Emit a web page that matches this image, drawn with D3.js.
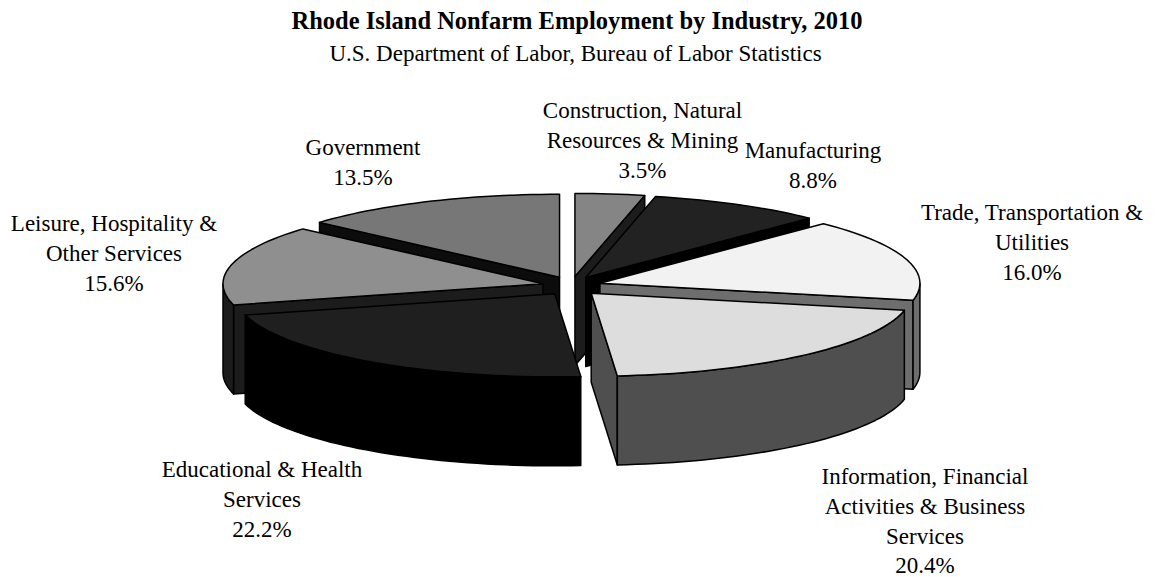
<!DOCTYPE html>
<html>
<head>
<meta charset="utf-8">
<script src="https://cdn.jsdelivr.net/npm/d3@7"></script>
<style>
  html, body { margin: 0; padding: 0; background: #fff; }
  text { font-family: "Liberation Serif", serif; fill: #000; }
</style>
</head>
<body>
<svg id="chart" width="1155" height="577"></svg>
<script>
const categories = ['Construction, Natural Resources & Mining', 'Manufacturing', 'Trade, Transportation & Utilities',
    'Information, Financial Activities & Business Services', 'Educational & Health Services',
    'Leisure, Hospitality & Other Services', 'Government'];
const values = [3.5, 8.8, 16.0, 20.4, 22.2, 15.6, 13.5];
const labelLines = [['Construction, Natural', 'Resources & Mining'], ['Manufacturing'], ['Trade, Transportation &', 'Utilities'],
    ['Information, Financial', 'Activities & Business', 'Services'], ['Educational & Health', 'Services'],
    ['Leisure, Hospitality &', 'Other Services'], ['Government']];
const topColors = ['#858585', '#222222', '#f2f2f2', '#dddddd', '#1f1f1f', '#8f8f8f', '#777777'];
const sideColors = ['#1c1c1c', '#000000', '#6e6e6e', '#4f4f4f', '#000000', '#1c1c1c', '#0c0c0c'];
// painter order, back of the pie first
const drawOrder = [6, 0, 1, 5, 2, 4, 3];
// where each label block starts: centre x, first baseline y
const labelPos = [[642.5, 118], [813, 158], [1032, 220], [925, 484], [262, 477], [114, 231], [363, 155]];

const title = 'Rhode Island Nonfarm Employment by Industry, 2010';
const subtitle = 'U.S. Department of Labor, Bureau of Labor Statistics';

const centre = {x: 571.7, y: 286};
const radiusX = 320, radiusY = 83, depth = 89;
const explodeX = 29.5, explodeY = 9.6;
const lineGap = 29.8;

const svg = d3.select('#chart');

svg.append('text').attr('x', 577).attr('y', 29).attr('text-anchor', 'middle')
    .style('font-size', '24.5px').style('font-weight', 'bold').text(title);
svg.append('text').attr('x', 575.5).attr('y', 61).attr('text-anchor', 'middle')
    .style('font-size', '23px').text(subtitle);

const slices = d3.pie().sort(null)(values);
const line = d3.line();

// ground plane angle (0 = top, clockwise) to screen position for a given slice
function project(slice, angle, r, h) {
    let mid = (slice.startAngle + slice.endAngle) / 2;
    return [
        centre.x + explodeX * Math.sin(mid) + radiusX * r * Math.sin(angle),
        centre.y - explodeY * Math.cos(mid) - radiusY * r * Math.cos(angle) + h
    ];
}

function arcPoints(slice, a0, a1, h) {
    let n = Math.max(2, Math.ceil((a1 - a0) / 0.03));
    return d3.range(n + 1).map(i => project(slice, a0 + (a1 - a0) * i / n, 1, h));
}

function radialFace(slice, angle) {
    return [project(slice, angle, 0, 0), project(slice, angle, 1, 0), project(slice, angle, 1, depth), project(slice, angle, 0, depth)];
}

function drawFace(points, fill) {
    svg.append('path').attr('d', line(points) + 'Z').attr('fill', fill)
        .attr('stroke', '#000').attr('stroke-width', 1.5).attr('stroke-linejoin', 'round');
}

drawOrder.forEach(i => {
    let s = slices[i];
    // radial cuts that face the viewer
    if (Math.sin(s.startAngle) < -1e-6) drawFace(radialFace(s, s.startAngle), sideColors[i]);
    if (Math.sin(s.endAngle) > 1e-6) drawFace(radialFace(s, s.endAngle), sideColors[i]);
    // outer rim, only the front half of the ellipse
    let a0 = Math.max(s.startAngle, Math.PI / 2), a1 = Math.min(s.endAngle, Math.PI * 3 / 2);
    if (a1 > a0) {
        drawFace(arcPoints(s, a0, a1, 0).concat(arcPoints(s, a0, a1, depth).reverse()), sideColors[i]);
    }
    // top
    drawFace([project(s, s.startAngle, 0, 0)].concat(arcPoints(s, s.startAngle, s.endAngle, 0)), topColors[i]);
});

const pct = d3.format('.1f');
labelLines.forEach((lines, i) => {
    let block = svg.append('text').attr('text-anchor', 'middle').style('font-size', '23px');
    lines.concat(pct(values[i]) + '%').forEach((t, k) => {
        block.append('tspan').attr('x', labelPos[i][0]).attr('y', labelPos[i][1] + k * lineGap).text(t);
    });
});
</script>
</body>
</html>
